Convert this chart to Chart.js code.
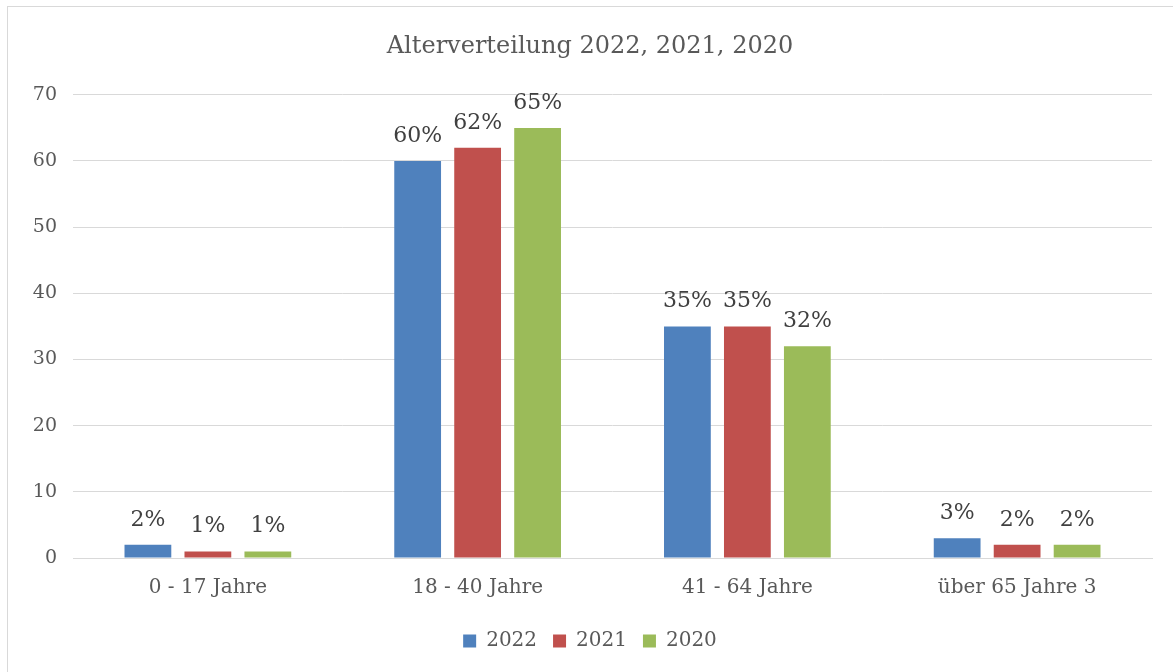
<!DOCTYPE html>
<html lang="de">
  <head>
    <meta charset="UTF-8" />
    <title>Alterverteilung</title>
    <style>
      * {
        margin: 0;
        padding: 0;
        box-sizing: border-box;
      }
      body {
        background: #fff;
        width: 1173px;
        height: 672px;
        overflow: hidden;
        position: relative;
      }
      .chartBox {
        position: absolute;
        left: 7px;
        top: 6px;
        width: 1176px;
        height: 700px;
        border: 1px solid #d9d9d9;
      }
      .chartBox canvas {
        position: absolute;
        left: 0;
        top: 0;
      }
    </style>
  </head>
  <body>
    <div class="chartBox">
      <canvas id="myChart" width="1164" height="665"></canvas>
    </div>

    <script src="https://cdn.jsdelivr.net/npm/chart.js"></script>
    <script>
      const categories = ["0 - 17 Jahre", "18 - 40 Jahre", "41 - 64 Jahre", "über 65 Jahre 3"];
      const values2022 = [2, 60, 35, 3];
      const values2021 = [1, 62, 35, 2];
      const values2020 = [1, 65, 32, 2];
      const seriesNames = ["2022", "2021", "2020"];

      const FONT = "'DejaVu Serif', 'Liberation Serif', serif";

      // draws "xx%" above each bar
      const barLabels = {
        id: "barLabels",
        afterDatasetsDraw(chart) {
          const { ctx } = chart;
          ctx.save();
          ctx.font = "22px " + FONT;
          ctx.fillStyle = "#404040";
          ctx.textAlign = "center";
          ctx.textBaseline = "alphabetic";
          chart.data.datasets.forEach((ds, i) => {
            chart.getDatasetMeta(i).data.forEach((bar, j) => {
              ctx.fillText(ds.data[j] + "%", bar.x, bar.y - 19);
            });
          });
          ctx.restore();
        },
      };

      const data = {
        labels: categories,
        datasets: [
          { label: seriesNames[0], data: values2022, backgroundColor: "#4f81bd" },
          { label: seriesNames[1], data: values2021, backgroundColor: "#c0504d" },
          { label: seriesNames[2], data: values2020, backgroundColor: "#9bbb59" },
        ],
      };

      const config = {
        type: "bar",
        data: data,
        options: {
          responsive: false,
          animation: false,
          categoryPercentage: 0.667,
          barPercentage: 0.78,
          layout: { padding: { left: 0, right: 0, top: 0, bottom: 11 } },
          plugins: {
            title: {
              display: true,
              text: "Alterverteilung 2022, 2021, 2020",
              color: "#595959",
              font: { family: FONT, size: 24, weight: "normal" },
              padding: { top: 25, bottom: 34 },
            },
            legend: {
              position: "bottom",
              labels: {
                boxWidth: 13,
                boxHeight: 13,
                padding: 16,
                color: "#595959",
                font: { family: FONT, size: 20 },
              },
            },
            tooltip: { enabled: false },
          },
          scales: {
            x: {
              grid: { display: false },
              border: { color: "#d9d9d9" },
              afterFit(scale) {
                scale.height = scale.height + 5;
              },
              ticks: {
                color: "#595959",
                padding: 10,
                font: { family: FONT, size: 20 },
              },
            },
            y: {
              min: 0,
              max: 70,
              afterFit(scale) {
                scale.width = 65;
              },
              grid: { color: "#d9d9d9", drawTicks: false },
              border: { display: false },
              ticks: {
                stepSize: 10,
                color: "#595959",
                padding: 16,
                font: { family: FONT, size: 19 },
              },
            },
            // empty right axis, only keeps a gap after the plot
            yRight: {
              position: "right",
              afterFit(scale) {
                scale.width = 20;
              },
              grid: { display: false },
              border: { display: false },
              ticks: { display: false },
            },
          },
        },
        plugins: [barLabels],
      };

      const myChart = new Chart(document.getElementById("myChart"), config);
    </script>
  </body>
</html>
